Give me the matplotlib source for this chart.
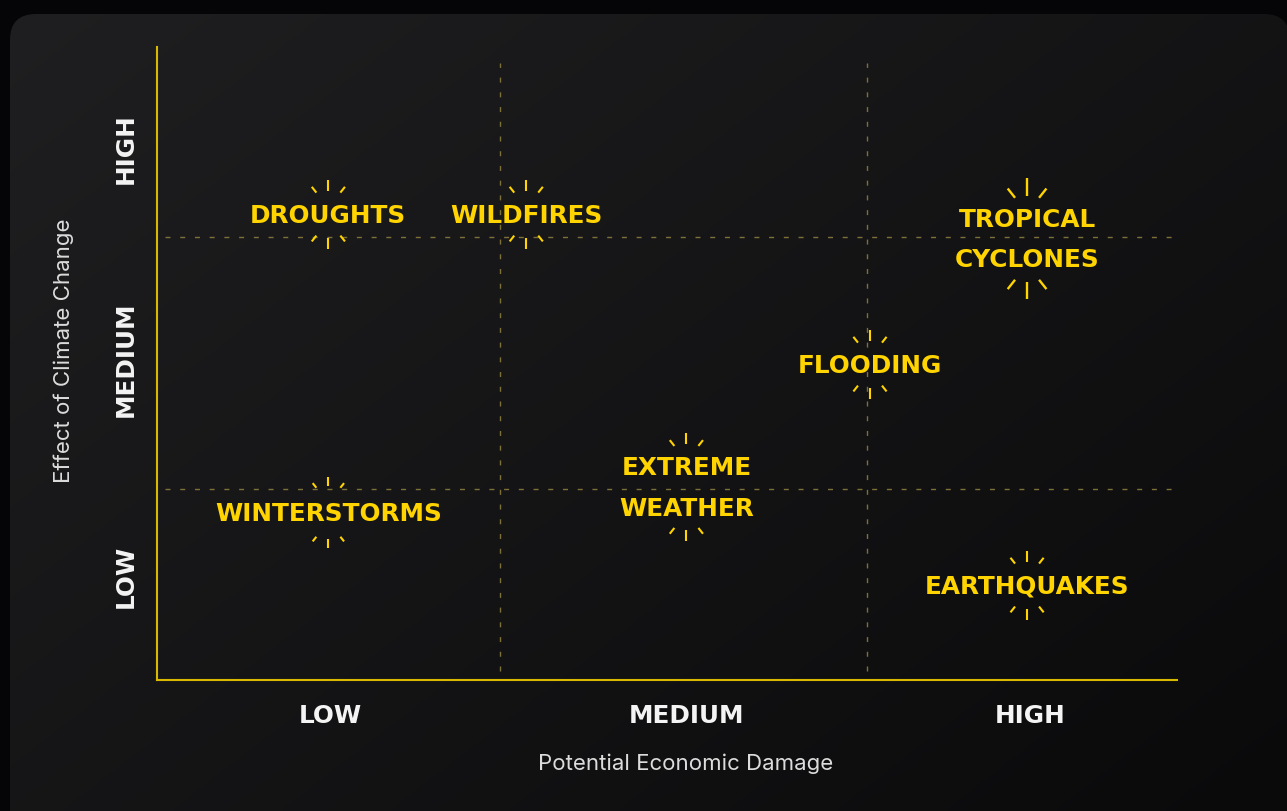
import numpy as np
import matplotlib
matplotlib.use("Agg")
import matplotlib.pyplot as plt
import matplotlib.transforms as mtransforms
from matplotlib.patches import FancyBboxPatch
from matplotlib.colors import LinearSegmentedColormap

# ==========================================
# DATA
# ==========================================
hazards = ["DROUGHTS", "WILDFIRES", "TROPICAL\nCYCLONES", "FLOODING",
           "EXTREME\nWEATHER", "WINTERSTORMS", "EARTHQUAKES"]
economic_damage = [1.68, 3.62, 8.53, 6.99, 5.19, 1.68, 8.53]
climate_effect = [7.36, 7.36, 6.97, 4.99, 3.05, 2.65, 1.50]

levels = ["LOW", "MEDIUM", "HIGH"]
x_level_pos = [1.70, 5.19, 8.56]
y_level_pos = [1.64, 5.06, 8.40]
x_dividers = [3.36, 6.96]
y_dividers = [3.02, 7.00]

# sparkle size per hazard (style only)
spark_scale = [1.0, 1.0, 1.6, 1.0, 1.0, 0.8, 1.0]

YELLOW = "#FFD400"
AXIS_YELLOW = "#D8B900"
GRID = "#7D7038"
WHITE = "#F4F4F4"
LABEL_FONT = "DejaVu Sans"

W, H = 1287, 811
fig = plt.figure(figsize=(W / 100, H / 100), dpi=100)
fig.patch.set_facecolor("#050507")

# ==========================================
# BACKGROUND CARD (gradient, rounded)
# ==========================================
bg = fig.add_axes([0, 0, 1, 1], zorder=-10)
bg.set_xlim(0, W)
bg.set_ylim(H, 0)
bg.axis("off")
xx, yy = np.meshgrid(np.linspace(0, 1, 260), np.linspace(0, 1, 160))
grad = 0.55 * xx + 0.45 * yy
cmap = LinearSegmentedColormap.from_list("bg", ["#1f1f21", "#0a0a0b"])
im = bg.imshow(grad, cmap=cmap, extent=(0, W, H, 0), aspect="auto",
               interpolation="bilinear")
card = FancyBboxPatch((10, 14), 1280, 840, boxstyle="round,pad=0,rounding_size=26",
                      facecolor="none", edgecolor="none", transform=bg.transData)
bg.add_patch(card)
im.set_clip_path(card)

# ==========================================
# MAIN AXES
# ==========================================
ax = fig.add_axes([157 / W, 131 / H, 1020 / W, 633 / H])
ax.set_facecolor("none")
for side in ["top", "right"]:
    ax.spines[side].set_visible(False)
for side in ["left", "bottom"]:
    ax.spines[side].set_color(AXIS_YELLOW)
    ax.spines[side].set_linewidth(1.5)

for xd in x_dividers:
    ax.axvline(xd, ymin=0.015, ymax=0.975, color=GRID, lw=1.0,
               linestyle=(0, (3.6, 7.0)), zorder=1)
for yd in y_dividers:
    ax.axhline(yd, xmin=0.008, xmax=0.995, color=GRID, lw=1.0,
               linestyle=(0, (3.6, 7.0)), zorder=1)

ax.set_xticks(x_level_pos, levels)
ax.set_yticks(y_level_pos, levels, rotation=90, va="center")
ax.tick_params(length=0, colors=WHITE)
ax.tick_params(axis="x", pad=17)
ax.tick_params(axis="y", pad=14)
for lab in ax.get_xticklabels() + ax.get_yticklabels():
    lab.set_fontfamily(LABEL_FONT)
    lab.set_fontweight("bold")
    lab.set_fontsize(17.8)
    lab.set_color(WHITE)


# ==========================================
# HAZARD LABELS + SPARKLES
# ==========================================
def sparkle(x, y, gap, s, lw):
    tr = mtransforms.Affine2D() + mtransforms.ScaledTranslation(x, y, ax.transData)
    for sign in (1, -1):
        segs = [((0, gap), (0, gap + 11 * s)),
                ((-12, gap - 2), (-12 - 4.6 * s, gap - 2 + 5.8 * s)),
                ((12, gap - 2), (12 + 4.6 * s, gap - 2 + 5.8 * s))]
        for (x0, y0), (x1, y1) in segs:
            ax.plot([x0, x1], [sign * y0, sign * y1], transform=tr, color=YELLOW,
                    lw=lw, solid_capstyle="butt", clip_on=False, zorder=3)


text_tr = mtransforms.offset_copy(ax.transData, fig=fig, x=0, y=-1.5, units="dots")
for name, xv, yv, s in zip(hazards, economic_damage, climate_effect, spark_scale):
    ax.text(xv, yv, name, transform=text_tr, ha="center", va="center",
            color=YELLOW, fontsize=17.8, fontweight="bold", family=LABEL_FONT,
            linespacing=1.85, zorder=4)
    n_lines = name.count("\n") + 1
    gap = 23.5 + 19.5 * (n_lines - 1) + (3 if s < 1 else 0)
    sparkle(xv, yv, gap, s, 1.5 if s <= 1 else 1.7)

ax.set_xlim(0, 10)
ax.set_ylim(0, 10)

# ==========================================
# AXIS TITLES
# ==========================================
fig.text(685.5 / W, 1 - 764 / H, "Potential Economic Damage", ha="center", va="center",
         color="#DCDCDC", fontsize=16, family="Inter", fontweight="normal")
fig.text(64 / W, 1 - 351 / H, "Effect of Climate Change", ha="center", va="center",
         rotation=90, color="#DCDCDC", fontsize=16, family="Inter", fontweight="normal")

fig.savefig("out.png", dpi=100, facecolor=fig.get_facecolor())
